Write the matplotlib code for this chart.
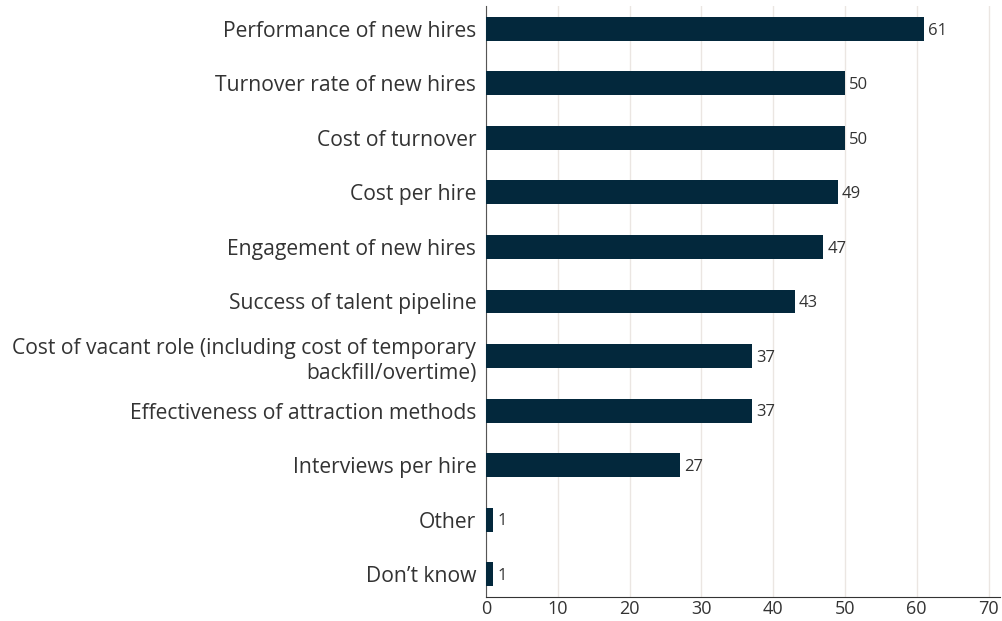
import matplotlib
matplotlib.use("Agg")
import matplotlib.pyplot as plt

categories = ["Performance of new hires", "Turnover rate of new hires", "Cost of turnover",
              "Cost per hire", "Engagement of new hires", "Success of talent pipeline",
              "Cost of vacant role (including cost of temporary\nbackfill/overtime)",
              "Effectiveness of attraction methods", "Interviews per hire", "Other", "Don’t know"]
values = [61, 50, 50, 49, 47, 43, 37, 37, 27, 1, 1]
xticks = [0, 10, 20, 30, 40, 50, 60, 70]

plt.rcParams['font.family'] = ['Open Sans', 'DejaVu Sans']
fig = plt.figure(figsize=(10.02, 6.21), dpi=100)
W, H = 1002, 621
ax = fig.add_axes([486 / W, 1 - 597 / H, (1000 - 486) / W, (597 - 6) / H])

y = list(range(len(categories)))
ax.barh(y, values, height=0.44, color="#03283c", zorder=3)
for yi, v in zip(y, values):
    ax.text(v + 0.6, yi + 0.03, str(v), va="center", ha="left", fontsize=12, color="#333333")

ax.set_yticks(y)
ax.set_yticklabels(categories, fontsize=15.2, color="#333333", linespacing=1.25)
ax.set_ylim(10.42, -0.42)
ax.set_xlim(0, 71.6)
ax.set_xticks(xticks)
ax.set_xticklabels([str(t) for t in xticks], fontsize=13, color="#333333")
ax.grid(axis="x", color="#ebe6e2", linewidth=1, zorder=0)
ax.tick_params(axis="y", length=0, pad=7)
ax.tick_params(axis="x", length=0, pad=2)
for s in ["top", "right"]:
    ax.spines[s].set_visible(False)
ax.spines["left"].set_color("#555555")
ax.spines["bottom"].set_color("#333333")
fig.savefig("out.png", dpi=100)
